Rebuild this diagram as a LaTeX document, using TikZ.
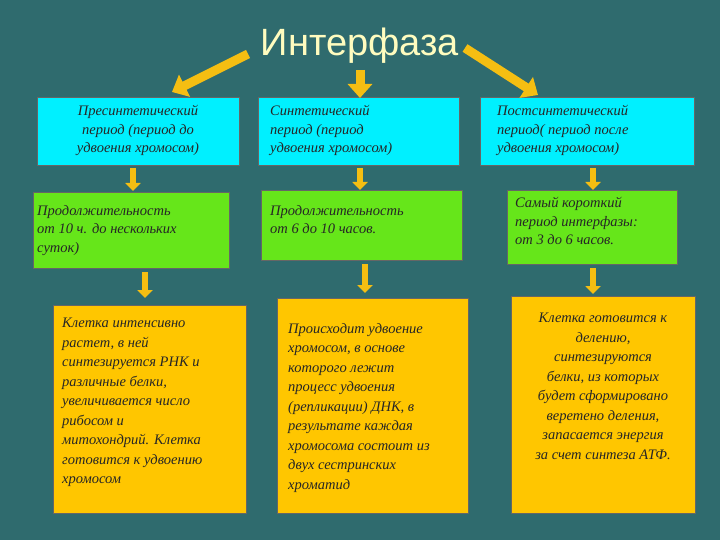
\documentclass[tikz,border=0pt]{standalone}
\usepackage{fontspec}
\setmainfont{Liberation Serif}
\newfontfamily\titlefont{Liberation Sans}
\usetikzlibrary{arrows.meta}
\definecolor{bg}{HTML}{2F6B6E}
\definecolor{cy}{HTML}{00F0FF}
\definecolor{gr}{HTML}{66E61A}
\definecolor{yl}{HTML}{FFC600}
\definecolor{ar}{HTML}{F5BE12}
\tikzset{
 txt/.style={font=\fontsize{14.5}{18.5}\selectfont\itshape, text=black!85, align=left, anchor=north west, inner sep=0pt},
 txtb/.style={txt, font=\fontsize{14.5}{19.5}\selectfont\itshape},
 bigarrow/.style={ar, line width=9pt, -{Triangle[width=24pt,length=14pt]}},
 smallarrow/.style={ar, line width=6pt, -{Triangle[width=15pt,length=8pt]}}
}
\begin{document}
\begin{tikzpicture}[x=1pt,y=-1pt]
\fill[bg] (0,0) rectangle (720,540);
\useasboundingbox (0,0) rectangle (720,540);
\node[font=\titlefont\fontsize{38}{40}\selectfont, text=yellow!25] (title) at (360,46) {Интерфаза};
% row 1
\fill[cy] (37,97) rectangle (239,165); \draw[black!60] (37,97) rectangle (239,165);
\node[txt, align=center, anchor=north] (t1) at (138,105) {Пресинтетический\\период (период до\\удвоения хромосом)};
\fill[cy] (258,97) rectangle (459,165); \draw[black!60] (258,97) rectangle (459,165);
\node[txt] (t2) at (270,105) {Синтетический\\период (период\\удвоения хромосом)};
\fill[cy] (480,97) rectangle (694,165); \draw[black!60] (480,97) rectangle (694,165);
\node[txt] (t3) at (497,105) {Постсинтетический\\период( период после\\удвоения хромосом)};
% row 2
\fill[gr] (33,192) rectangle (229,268); \draw[black!60] (33,192) rectangle (229,268);
\node[txt] (t4) at (37,205) {Продолжительность\\от 10 ч. до нескольких\\суток)};
\fill[gr] (261,190) rectangle (462,260); \draw[black!60] (261,190) rectangle (462,260);
\node[txt] (t5) at (270,205) {Продолжительность\\от 6 до 10 часов.};
\fill[gr] (507,190) rectangle (677,264); \draw[black!60] (507,190) rectangle (677,264);
\node[txt] (t6) at (515,197) {Самый короткий\\период интерфазы:\\от 3 до 6 часов.};
% row 3
\fill[yl] (53,305) rectangle (246,513); \draw[black!60] (53,305) rectangle (246,513);
\node[txtb] (t7) at (62,318) {Клетка интенсивно\\растет, в ней\\синтезируется РНК и\\различные белки,\\увеличивается число\\рибосом и\\митохондрий. Клетка\\готовится  к удвоению\\хромосом};
\fill[yl] (277,298) rectangle (468,513); \draw[black!60] (277,298) rectangle (468,513);
\node[txtb] (t8) at (288,323) {Происходит удвоение\\хромосом, в основе\\которого лежит\\процесс удвоения\\(репликации) ДНК, в\\результате каждая\\хромосома состоит из\\двух сестринских\\хроматид};
\fill[yl] (511,296) rectangle (695,513); \draw[black!60] (511,296) rectangle (695,513);
\node[txtb, align=center, anchor=north] (t9) at (603,313) {Клетка готовится к\\делению,\\синтезируются\\белки, из которых\\будет сформировано\\веретено деления,\\запасается энергия\\за счет синтеза АТФ.};
% big arrows
\coordinate (a1) at (248,54); \coordinate (a2) at (360,70); \coordinate (a3) at (465,48);
\draw[bigarrow] (a1) -- (172,92);
\draw[bigarrow] (a2) -- (360,98);
\draw[bigarrow] (a3) -- (538,95);
% small arrows
\foreach \x/\ya/\yb in {133/168/191, 360/168/190, 593/168/190, 145/272/298, 365/264/293, 593/268/294}
  \draw[smallarrow] (\x,\ya) -- (\x,\yb);
\end{tikzpicture}
\end{document}
